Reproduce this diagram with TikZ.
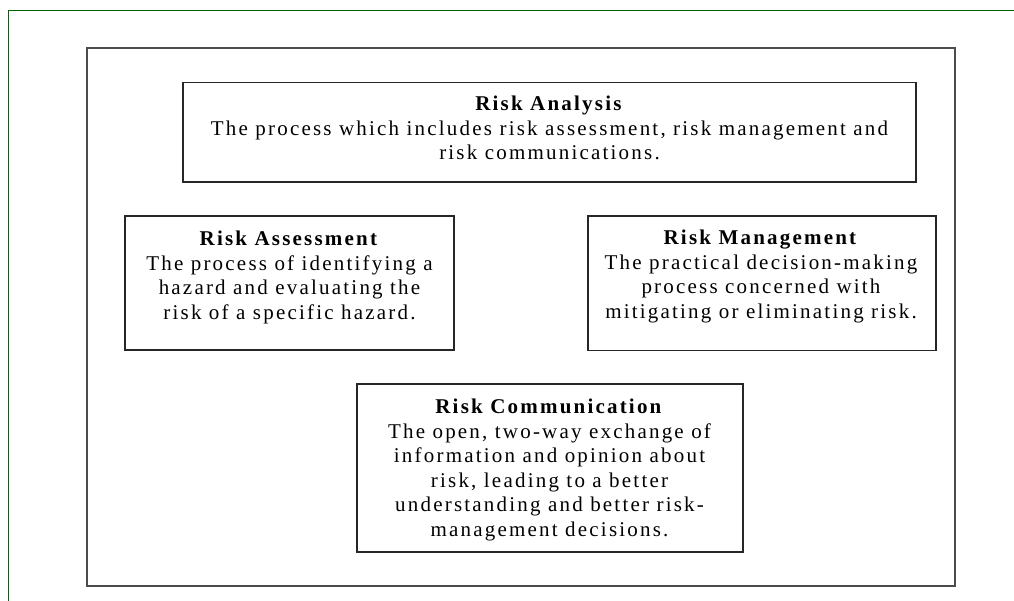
\documentclass[tikz,border=0pt]{standalone}
\usepackage{fontspec}
\setmainfont{Liberation Serif}[LetterSpace=10.5]
\definecolor{dkgreen}{RGB}{0,100,0}
\tikzset{
  frameline/.style={draw=dkgreen, line width=1.2pt},
  outerbox/.style={draw=black!70, line width=2pt, inner sep=0pt, fill=none},
  box/.style={draw=black!85, line width=1.4pt, inner sep=0pt, fill=white},
  txt/.style={align=center, inner sep=0pt, anchor=north, font=\fontsize{21}{24.6}\selectfont},
}
\begin{document}
\begin{tikzpicture}[x=1pt,y=-1pt]
\useasboundingbox (0,0) rectangle (1014,601);
\fill[white] (0,0) rectangle (1014,601);
% green page frame
\coordinate (g1) at (1014,10.5);
\coordinate (g2) at (8.5,10.5);
\coordinate (g3) at (8.5,601);
\draw[frameline] (g1) -- (g2) -- (g3);
% outer box
\node[outerbox, minimum width=868.5, minimum height=537.2] (outer) at (520.75,317.1) {};
% boxes
\node[box, minimum width=733, minimum height=99.5] (ana) at (549.5,132.25) {};
\node[box, minimum width=329, minimum height=134] (ass) at (289.5,283) {};
\node[box, minimum width=348, minimum height=134.7] (man) at (762,283.35) {};
\node[box, minimum width=386, minimum height=168] (com) at (550,468) {};
% texts
\node[txt] (anat) at (549.5,95.8) {\textbf{Risk Analysis}\\The process which includes risk assessment, risk management and\\risk communications.};
\node[txt] (asst) at (289.5,230.8) {\textbf{Risk Assessment}\\The process of identifying a\\hazard and evaluating the\\risk of a specific hazard.};
\node[txt] (mant) at (761,229.8) {\textbf{Risk Management}\\The practical decision-making\\process concerned with\\mitigating or eliminating risk.};
\node[txt] (comt) at (549.5,398.8) {\textbf{Risk Communication}\\The open, two-way exchange of\\information and opinion about\\risk, leading to a better\\understanding and better risk-\\management decisions.};
\end{tikzpicture}
\end{document}
